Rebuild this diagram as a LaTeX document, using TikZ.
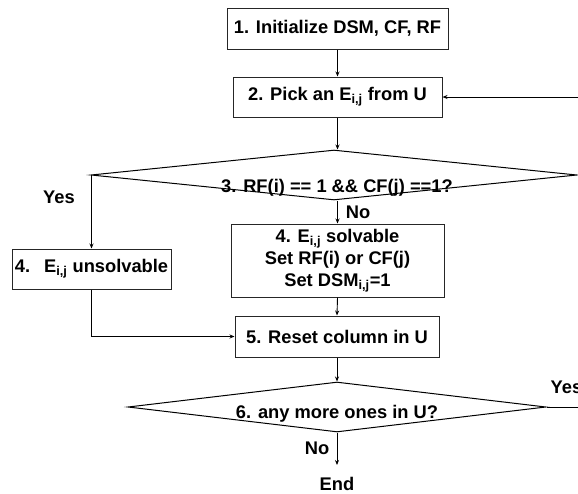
\documentclass[tikz,border=0pt]{standalone}
\usepackage{fontspec}
\setmainfont{Liberation Sans}
\usetikzlibrary{shapes.geometric,arrows.meta}

\tikzset{
  txt/.style={font=\fontsize{18.3}{22}\selectfont\bfseries, inner sep=0pt, align=center},
  box/.style={txt, draw=black!85, line width=1pt, rectangle},
  decision/.style={draw=black, line width=1pt, diamond, inner sep=0pt},
  link/.style={draw=black, line width=0.9pt},
  arr/.style={link, -{Stealth[length=5pt,width=4pt]}},
}

\begin{document}
\begin{tikzpicture}[x=1pt,y=-1pt]
  \useasboundingbox (0,0) rectangle (578,493);

  % process boxes
  \node[box, minimum width=221, minimum height=41] (b1) at (337.5,28.5) {1. Initialize DSM, CF, RF};
  \node[box, minimum width=209, minimum height=40] (b2) at (337.5,97) {2. Pick an E\textsubscript{i,j} from U};
  \node[box, minimum width=213, minimum height=73] (b4s) at (337.5,260.5)
    {4. E\textsubscript{i,j} solvable\\ Set RF(i) or CF(j)\\ Set DSM\textsubscript{i,j}=1};
  \node[box, minimum width=159, minimum height=40] (b4u) at (91.5,269) {4.\hspace{14pt}E\textsubscript{i,j} unsolvable};
  \node[box, minimum width=204, minimum height=41] (b5) at (337,336.5) {5. Reset column in U};

  % decisions
  \node[decision, minimum width=486, minimum height=50] (d3) at (334,175) {};
  \node[txt] (t3) at (337,188) {3. RF(i) == 1 \&\& CF(j) ==1?};
  \node[decision, minimum width=418, minimum height=50] (d6) at (337,407) {};
  \node[txt] (t6) at (337,414) {6. any more ones in U?};

  % branch labels and end
  \node[txt] (yes3) at (59,197) {Yes};
  \node[txt] (no3) at (358,212) {No};
  \node[txt] (no6) at (317,448) {No};
  \node[txt] (yes6) at (566.5,387) {Yes};
  \node[txt] (endtxt) at (337,483.5) {End};

  % loose ends at the border
  \coordinate (loopin) at (578,97);
  \coordinate (loopout) at (578,407);
  \coordinate (endtop) at (337,465);

  % connectors
  \draw[arr] (b1.south) -- (b2.north);
  \draw[arr] (b2.south) -- (b2.south |- d3.north);
  \draw[arr] (loopin) -- (b2.east);
  \draw[arr] (d3.west) -| (b4u.north);
  \draw[arr] (d3.south -| b4s.north) -- (b4s.north);
  \draw[arr] (b4u.south) |- (b5.west);
  \draw[arr] (b4s.south) -- (b5.north);
  \draw[arr] (b5.south) -- (d6.north);
  \draw[link] (d6.east) -- (loopout);
  \draw[arr] (d6.south) -- (endtop);
\end{tikzpicture}
\end{document}
